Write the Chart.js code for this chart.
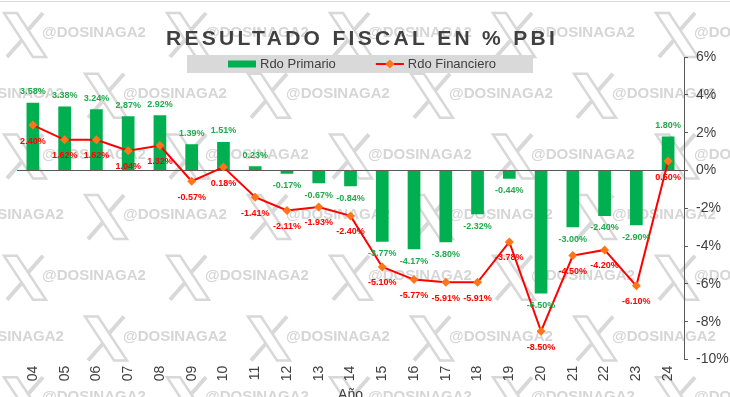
<!DOCTYPE html>
<html>
<head>
<meta charset="utf-8">
<script src="https://cdn.jsdelivr.net/npm/chart.js@4/dist/chart.umd.min.js"></script>
<style>
    html, body { margin: 0; padding: 0; background: #fff; }
    #wrap { width: 730px; height: 397px; position: relative; }
</style>
</head>
<body>
<div id="wrap"><canvas id="fiscal_chart"></canvas></div>
<script>
const anios = ['04', '05', '06', '07', '08', '09', '10', '11', '12', '13', '14',
               '15', '16', '17', '18', '19', '20', '21', '22', '23', '24'];
const rdo_primario = [3.58, 3.38, 3.24, 2.87, 2.92, 1.39, 1.51, 0.23, -0.17, -0.67, -0.84,
                      -3.77, -4.17, -3.80, -2.32, -0.44, -6.50, -3.00, -2.40, -2.90, 1.80];
const rdo_financiero = [2.40, 1.62, 1.62, 1.04, 1.32, -0.57, 0.18, -1.41, -2.11, -1.93, -2.40,
                        -5.10, -5.77, -5.91, -5.91, -3.78, -8.50, -4.50, -4.20, -6.10, 0.50];
const eje_y = [6, 4, 2, 0, -2, -4, -6, -8, -10];

const GRIS = '#404040';
const VERDE = '#00B050';
const ROJO = '#FF0000';

function dibujar_x(ctx, cx, cy) {
    // logo X de la marca de agua
    ctx.lineWidth = 2.5;
    ctx.beginPath();
    ctx.moveTo(cx - 21, cy - 22);
    ctx.lineTo(cx - 8, cy - 22);
    ctx.lineTo(cx + 21, cy + 22);
    ctx.lineTo(cx + 8, cy + 22);
    ctx.closePath();
    ctx.stroke();
    ctx.lineWidth = 4;
    ctx.beginPath();
    ctx.moveTo(cx + 18, cy - 22);
    ctx.lineTo(cx + 3, cy - 5);
    ctx.moveTo(cx - 3, cy + 5);
    ctx.lineTo(cx - 18, cy + 22);
    ctx.stroke();
}

const marca_agua = {
    id: 'marca_agua',
    beforeDraw(chart) {
        const ctx = chart.ctx;
        ctx.save();
        ctx.fillStyle = '#fff';
        ctx.fillRect(0, 0, chart.width, chart.height);
        ctx.strokeStyle = '#d9d9d9';
        ctx.beginPath();
        ctx.moveTo(0, 1.5);
        ctx.lineTo(chart.width, 1.5);
        ctx.lineWidth = 1;
        ctx.stroke();
        ctx.strokeStyle = '#d8d8d8';
        ctx.fillStyle = '#d6d6d6';
        ctx.font = 'bold 15px Arial';
        ctx.textBaseline = 'middle';
        for (let fila = 0; fila < 7; fila++) {
            const y = 33 + fila * 60.7;
            const x0 = fila % 2 === 0 ? 42 : 123;
            for (let x = x0 - 163; x < chart.width + 60; x += 163) {
                dibujar_x(ctx, x - 17, y + 2);
                ctx.fillText('@DOSINAGA2', x, y);
            }
        }
        ctx.restore();
    }
};

const titulo_leyenda = {
    id: 'titulo_leyenda',
    afterDraw(chart) {
        const ctx = chart.ctx;
        ctx.save();
        // titulo
        ctx.font = 'bold 21px Arial';
        ctx.letterSpacing = '3.3px';
        ctx.fillStyle = GRIS;
        ctx.textBaseline = 'alphabetic';
        ctx.fillText('RESULTADO FISCAL EN % PBI', 166, 45);
        ctx.letterSpacing = '0px';

        // leyenda
        const barras = chart.data.datasets[1];
        const linea = chart.data.datasets[0];
        ctx.font = '13px Arial';
        const w1 = ctx.measureText(barras.label).width;
        const w2 = ctx.measureText(linea.label).width;
        const sw = 28, sep = 4, gap = 40;
        const total = sw + sep + w1 + gap + sw + sep + w2;
        ctx.fillStyle = '#d9d9d9';
        ctx.fillRect(187, 55, 346, 18);
        let x = 362 - total / 2;
        const y = 64;
        ctx.fillStyle = barras.backgroundColor;
        ctx.fillRect(x, y - 3.5, sw, 7);
        x += sw + sep;
        ctx.fillStyle = GRIS;
        ctx.textBaseline = 'middle';
        ctx.fillText(barras.label, x, y);
        x += w1 + gap;
        ctx.strokeStyle = linea.borderColor;
        ctx.lineWidth = 2;
        ctx.beginPath();
        ctx.moveTo(x, y);
        ctx.lineTo(x + sw, y);
        ctx.stroke();
        ctx.fillStyle = linea.pointBackgroundColor;
        ctx.beginPath();
        ctx.moveTo(x + sw / 2, y - 4.5);
        ctx.lineTo(x + sw / 2 + 4.5, y);
        ctx.lineTo(x + sw / 2, y + 4.5);
        ctx.lineTo(x + sw / 2 - 4.5, y);
        ctx.closePath();
        ctx.fill();
        x += sw + sep;
        ctx.fillStyle = GRIS;
        ctx.fillText(linea.label, x, y);
        ctx.restore();
    }
};

const etiquetas = {
    id: 'etiquetas',
    afterDatasetsDraw(chart) {
        const ctx = chart.ctx;
        ctx.save();
        ctx.font = 'bold 9px Arial';
        ctx.textAlign = 'center';
        ctx.textBaseline = 'middle';
        chart.data.datasets.forEach((ds, i) => {
            const meta = chart.getDatasetMeta(i);
            meta.data.forEach((el, j) => {
                const v = ds.data[j];
                let y;
                if (ds.type === 'bar') {
                    y = v >= 0 ? el.y - 11 : el.y + 12;
                } else {
                    y = el.y + 16;
                }
                ctx.fillStyle = ds.color_etiqueta;
                ctx.fillText(v.toFixed(2) + '%', el.x, y);
            });
        });
        ctx.restore();
    }
};

new Chart(document.getElementById('fiscal_chart'), {
    data: {
        labels: anios,
        datasets: [{
            type: 'line',
            label: 'Rdo Financiero',
            data: rdo_financiero,
            borderColor: ROJO,
            borderWidth: 2,
            pointStyle: 'rectRot',
            pointRadius: 4.5,
            pointBackgroundColor: '#FF7518',
            pointBorderColor: '#FF7518',
            pointBorderWidth: 0,
            tension: 0,
            order: 0,
            color_etiqueta: ROJO
        }, {
            type: 'bar',
            label: 'Rdo Primario',
            data: rdo_primario,
            backgroundColor: VERDE,
            barPercentage: 0.4,
            categoryPercentage: 1,
            order: 1,
            color_etiqueta: '#22A94B'
        }]
    },
    options: {
        responsive: true,
        maintainAspectRatio: false,
        animation: false,
        layout: { padding: { top: 57, left: 17, right: 0, bottom: -7 } },
        plugins: {
            legend: { display: false },
            tooltip: { enabled: false }
        },
        scales: {
            x: {
                grid: { display: false, drawTicks: false },
                border: { display: false },
                ticks: {
                    autoSkip: false,
                    minRotation: 90,
                    maxRotation: 90,
                    padding: 6,
                    color: GRIS,
                    font: { family: 'Arial', size: 14 }
                },
                title: {
                    display: true,
                    text: 'Año',
                    color: GRIS,
                    padding: { top: 0, bottom: 0 },
                    font: { family: 'Arial', size: 14 }
                }
            },
            y: {
                position: 'right',
                min: Math.min(...eje_y),
                max: Math.max(...eje_y),
                afterFit: scale => { scale.width = 46; },
                ticks: {
                    stepSize: 2,
                    padding: 8,
                    color: GRIS,
                    font: { family: 'Arial', size: 14 },
                    callback: v => v + '%'
                },
                grid: {
                    color: c => (c.tick && c.tick.value === 0) ? '#595959' : 'rgba(0,0,0,0)',
                    tickColor: '#595959',
                    tickLength: 4,
                    lineWidth: 1
                },
                border: { color: '#595959', width: 1 }
            }
        }
    },
    plugins: [marca_agua, etiquetas, titulo_leyenda]
});
</script>
</body>
</html>
